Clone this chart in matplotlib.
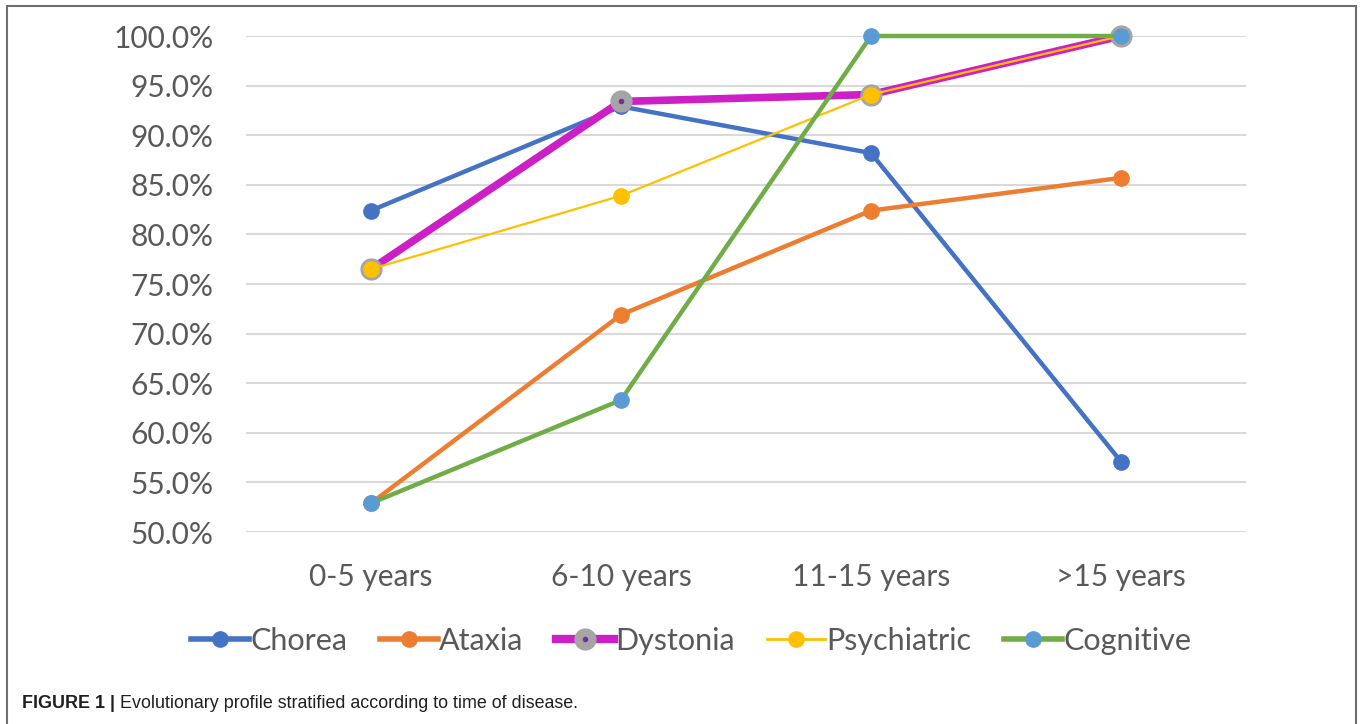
import matplotlib
matplotlib.use("Agg")
import matplotlib.pyplot as plt
from matplotlib.lines import Line2D
from matplotlib.patches import Rectangle

categories = ["0-5 years", "6-10 years", "11-15 years", ">15 years"]
chorea = [82.4, 92.9, 88.2, 57.1]
ataxia = [52.9, 71.9, 82.4, 85.7]
dystonia = [76.5, 93.4, 94.1, 100.0]
psychiatric = [76.5, 83.9, 94.1, 100.0]
cognitive = [52.9, 63.3, 100.0, 100.0]
yticks = [50, 55, 60, 65, 70, 75, 80, 85, 90, 95, 100]

FONT = ["Lato", "DejaVu Sans"]
TXT = "#595959"

fig = plt.figure(figsize=(13.6, 7.24), dpi=100)
ax = fig.add_axes([246/1360, 1 - 532/724, 1000/1360, 496/724])

x = list(range(len(categories)))
ax.plot(x, chorea, color="#4472C4", lw=3.2, marker="o", ms=11, mfc="#4472C4", mec="#4472C4", zorder=3, clip_on=False)
ax.plot(x, ataxia, color="#ED7D31", lw=3.2, marker="o", ms=11, mfc="#ED7D31", mec="#ED7D31", zorder=4, clip_on=False)
ax.plot(x, dystonia, color="#CC1FC6", lw=5.5, marker="o", ms=15, mfc="#A5A5A5", mec="#A5A5A5", zorder=5, clip_on=False)
ax.plot(x, dystonia, ls="none", marker="o", ms=3, mfc="#7030A0", mec="#7030A0", zorder=5.5, clip_on=False)
ax.plot(x, psychiatric, color="#FFC000", lw=1.6, marker="o", ms=11, mfc="#FFC000", mec="#FFC000", zorder=6, clip_on=False)
ax.plot(x, cognitive, color="#70AD47", lw=3.2, marker="o", ms=11, mfc="#5B9BD5", mec="#5B9BD5", zorder=7, clip_on=False)

ax.set_xlim(-0.5, 3.5)
ax.set_ylim(50, 100)
ax.set_yticks(yticks)
ax.set_yticklabels([f"{v:.1f}%" for v in yticks], fontsize=21.5, color=TXT, family=FONT)
ax.set_xticks(x)
ax.set_xticklabels(categories, fontsize=21.5, color=TXT, family=FONT)
ax.tick_params(axis="both", length=0)
ax.tick_params(axis="y", pad=23.5)
ax.tick_params(axis="x", pad=22.5)
ax.grid(axis="y", color="#D9D9D9", lw=1.5, zorder=0)
ax.set_axisbelow(True)
for s in ax.spines.values():
    s.set_visible(False)

handles = [
    Line2D([], [], color="#4472C4", lw=4, marker="o", ms=11, mfc="#4472C4", mec="#4472C4"),
    Line2D([], [], color="#ED7D31", lw=4, marker="o", ms=11, mfc="#ED7D31", mec="#ED7D31"),
    (Line2D([], [], color="#CC1FC6", lw=6, marker="o", ms=15, mfc="#A5A5A5", mec="#A5A5A5"),
     Line2D([], [], ls="none", marker="o", ms=3, mfc="#7030A0", mec="#7030A0")),
    Line2D([], [], color="#FFC000", lw=2, marker="o", ms=11, mfc="#FFC000", mec="#FFC000"),
    Line2D([], [], color="#70AD47", lw=4, marker="o", ms=11, mfc="#5B9BD5", mec="#5B9BD5"),
]
labels = ["Chorea", "Ataxia", "Dystonia", "Psychiatric", "Cognitive"]
leg = fig.legend(handles, labels, loc="center", bbox_to_anchor=(691/1360, 1 - 641/724),
                 ncol=5, frameon=False, handlelength=1.9, handletextpad=0.05, columnspacing=1.05,
                 prop={"family": FONT, "size": 22})
for t in leg.get_texts():
    t.set_color(TXT)

CAP = ["Liberation Sans", "DejaVu Sans"]
t1 = fig.text(22/1360, 1 - 704/724, "FIGURE 1 |", fontsize=12.9, fontweight="bold", color="#231F20",
              family=CAP, va="center", ha="left")
fig.canvas.draw()
bb = t1.get_window_extent()
fig.text((bb.x1 + 5)/1360, 1 - 704/724, "Evolutionary profile stratified according to time of disease.",
         fontsize=12.9, color="#231F20", family=CAP, va="center", ha="left")

fig.patches.append(Rectangle((7/1360, -0.01), (1356 - 7)/1360, 1 - 6/724 + 0.01, transform=fig.transFigure,
                             fill=False, edgecolor="#6E6E6E", lw=1.5, zorder=10))

fig.savefig("out.png", dpi=100)
